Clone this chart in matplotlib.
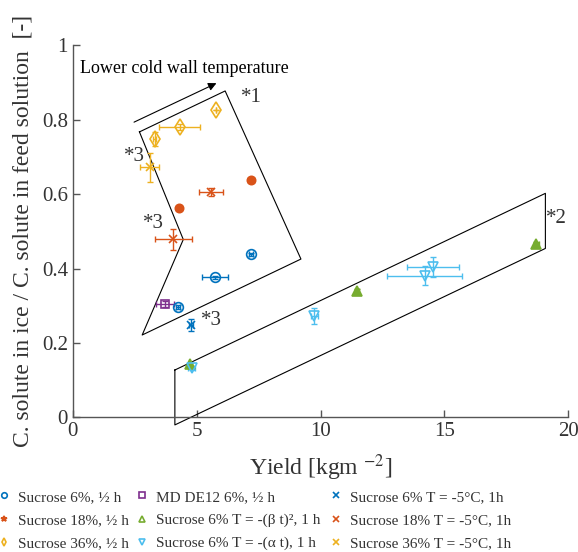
import matplotlib
matplotlib.use("Agg")
import matplotlib.pyplot as plt
from matplotlib.lines import Line2D

plt.rcParams['font.family'] = ['Liberation Serif', 'DejaVu Serif']
plt.rcParams['mathtext.fontset'] = 'stix'

# colours (MATLAB default palette)
C_BLUE = '#0072BD'; C_ORANGE = '#D95319'; C_YELLOW = '#EDB120'
C_PURPLE = '#7E2F8E'; C_GREEN = '#77AC30'; C_LBLUE = '#4DBEEE'
TXT = '#333333'

# ---- data ----
s6_x = [7.21, 5.74, 4.26]; s6_y = [0.438, 0.376, 0.297]
s6_xe = [0.08, 0.51, 0.08]; s6_ye = [0.005, 0.005, 0.005]

s18_x = [7.20, 4.30]; s18_y = [0.639, 0.563]
s18_xe = [0.12, 0.08]; s18_ye = [0.005, 0.006]

s36_x = [5.78, 4.31, 3.30]; s36_y = [0.827, 0.779, 0.747]
s36_xe = [0.0, 0.82, 0.06]; s36_ye = [0.0, 0.008, 0.019]

md_x = [3.72]; md_y = [0.3055]; md_xe = [0.35]; md_ye = [0.008]

beta_x = [4.73, 11.47, 18.71]; beta_y = [0.1435, 0.3396, 0.466]
beta_xe = [0.05, 0.08, 0.1]; beta_ye = [0.004, 0.005, 0.004]

alpha_x = [4.80, 9.75, 14.54, 14.20]; alpha_y = [0.132, 0.2725, 0.405, 0.381]
alpha_xe = [0.15, 0.15, 1.05, 1.52]; alpha_ye = [0.005, 0.022, 0.027, 0.026]

t6_x = [4.76]; t6_y = [0.248]; t6_xe = [0.08]; t6_ye = [0.017]
t18_x = [5.59, 4.06]; t18_y = [0.605, 0.479]; t18_xe = [0.48, 0.76]; t18_ye = [0.01, 0.028]
t36_x = [3.11]; t36_y = [0.672]; t36_xe = [0.38]; t36_ye = [0.039]

poly1_x = [2.69, 6.15, 9.21, 2.80, 4.46, 2.69]
poly1_y = [0.767, 0.877, 0.4255, 0.2215, 0.478, 0.767]
poly2_x = [4.12, 19.08, 19.08, 4.12, 4.12]
poly2_y = [0.1275, 0.602, 0.454, -0.02, 0.1275]
arrow_start = (2.37, 0.79); arrow_end = (5.90, 0.901)

fig = plt.figure(figsize=(5.78, 5.52), dpi=100)
ax = fig.add_axes([0.126, 0.2437, 0.857, 0.6745])

ax.plot(poly1_x, poly1_y, color='black', lw=0.8, clip_on=False)
ax.plot(poly2_x, poly2_y, color='black', lw=0.8, clip_on=False)
ax.annotate('', xy=arrow_end, xytext=arrow_start,
            arrowprops=dict(arrowstyle='-|>', color='black', lw=0.8, mutation_scale=12))
ax.text(0.3, 0.938, 'Lower cold wall temperature', fontsize=13, color='black', va='center')
ax.text(6.78, 0.86, '*1', fontsize=15, color=TXT, va='center')
ax.text(19.1, 0.535, '*2', fontsize=15, color=TXT, va='center')
ax.text(2.05, 0.70, '*3', fontsize=15, color=TXT, va='center')
ax.text(2.85, 0.52, '*3', fontsize=15, color=TXT, va='center')
ax.text(5.16, 0.26, '*3', fontsize=15, color=TXT, va='center')

def eb(x, y, xe, ye, color, marker, ms, label, mfc='none', mew=1.2, lmarker=None, lmfc='none'):
    ax.errorbar(x, y, xerr=xe, yerr=ye, fmt='none', ecolor=color, elinewidth=1.0,
                capsize=2.5, capthick=1.0, zorder=2)
    ax.plot(x, y, ls='none', marker=marker, ms=ms, mec=color, mfc=mfc, mew=mew, zorder=3)
    return Line2D([], [], ls='none', marker=lmarker or marker, ms=4, mec=color, mfc=lmfc,
                  mew=1.2, label=label)

col1 = [
    eb(s6_x, s6_y, s6_xe, s6_ye, C_BLUE, 'o', 7, 'Sucrose 6%, ½ h'),
    eb(s18_x, s18_y, s18_xe, s18_ye, C_ORANGE, 'o', 6, 'Sucrose 18%, ½ h', mfc=C_ORANGE,
       lmarker='*', lmfc=C_ORANGE),
    eb(s36_x, s36_y, s36_xe, s36_ye, C_YELLOW, 'd', 8, 'Sucrose 36%, ½ h'),
]
col2 = [
    eb(md_x, md_y, md_xe, md_ye, C_PURPLE, 's', 6, 'MD DE12 6%, ½ h'),
    eb(beta_x, beta_y, beta_xe, beta_ye, C_GREEN, '^', 7, 'Sucrose 6% T = -(β t)², 1 h',
       mfc=C_GREEN),
    eb(alpha_x, alpha_y, alpha_xe, alpha_ye, C_LBLUE, 'v', 7, 'Sucrose 6% T = -(α t), 1 h'),
]
col3 = [
    eb(t6_x, t6_y, t6_xe, t6_ye, C_BLUE, 'x', 6, 'Sucrose 6% T = -5°C, 1h'),
    eb(t18_x, t18_y, t18_xe, t18_ye, C_ORANGE, 'x', 6, 'Sucrose 18% T = -5°C, 1h'),
    eb(t36_x, t36_y, t36_xe, t36_ye, C_YELLOW, 'x', 6, 'Sucrose 36% T = -5°C, 1h'),
]

ax.set_xlim(0, 20)
ax.set_ylim(0, 1)
ax.set_xticks([0, 5, 10, 15, 20])
ax.set_yticks([0, 0.2, 0.4, 0.6, 0.8, 1])
ax.set_yticklabels(['0', '0.2', '0.4', '0.6', '0.8', '1'])
for s in ['top', 'right']:
    ax.spines[s].set_visible(False)
for s in ['left', 'bottom']:
    ax.spines[s].set_color('#555555')
    ax.spines[s].set_linewidth(1.0)
ax.tick_params(direction='in', length=5, width=1.0, colors='#555555', labelsize=15,
               labelcolor=TXT)
ax.set_xlabel(r'Yield [kgm $^{-2}$]', fontsize=17, color=TXT, labelpad=8)
ax.set_ylabel('C. solute in ice / C. solute in feed solution  [-]', fontsize=17, color=TXT, labelpad=6)

for handles, xf in [(col1, -0.0036), (col2, 0.2353), (col3, 0.571)]:
    leg = fig.legend(handles=handles, ncol=1, loc='upper left', bbox_to_anchor=(xf, 0.1123),
                     frameon=False, fontsize=11, handlelength=0.8, handletextpad=0.52,
                     labelspacing=0.62, borderpad=0, borderaxespad=0)
    for t in leg.get_texts():
        t.set_color(TXT)

fig.savefig('out.png', dpi=100)
